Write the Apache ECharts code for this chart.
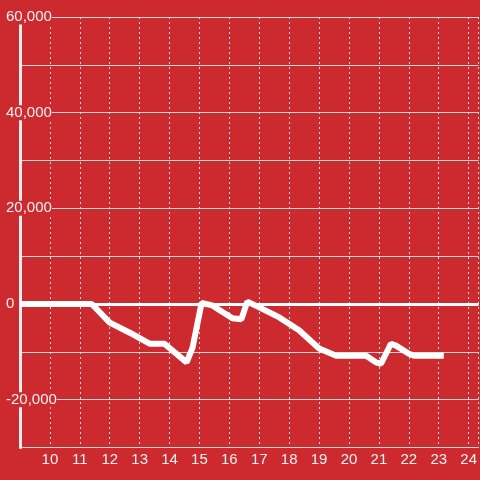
<!DOCTYPE html>
<html>
<head>
<meta charset="utf-8">
<script src="https://cdn.jsdelivr.net/npm/echarts@6/dist/echarts.min.js"></script>
<style>
  html, body { margin: 0; padding: 0; background: #cd2a2f; }
  #chart { width: 480px; height: 480px; }
</style>
</head>
<body>
<div id="chart"></div>
<script>
// x positions (hours) and values
const xValues = [9, 11.4, 12.0, 12.67, 13.33, 13.83, 14.57, 14.77, 15.07, 15.43, 16.1, 16.4, 16.6, 17.0, 17.67, 18.33, 19.0, 19.57, 20.57, 20.9, 21.07, 21.4, 21.57, 22.0, 22.17, 23.17];
const yValues = [0, 0, -3900, -6000, -8300, -8300, -12200, -9100, 200, -300, -3000, -3200, 500, -700, -2800, -5500, -9300, -10800, -10800, -12200, -12500, -8300, -8700, -10400, -10800, -10800];
const yTickLabels = [-20000, 0, 20000, 40000, 60000];

const bg = '#cd2a2f';
const chart = echarts.init(document.getElementById('chart'));

const option = {
  backgroundColor: bg,
  animation: false,
  grid: { left: 20, right: 0, top: 17, bottom: 32.5, containLabel: false },
  xAxis: {
    type: 'value',
    min: 9,
    max: 9 + 460 / 30,   // axis runs off the right edge, ~24.33
    interval: 1,
    axisLine: { show: false, onZero: false },
    axisTick: { show: false },
    axisLabel: {
      color: '#f2f2f2',
      fontSize: 15,
      fontFamily: 'Liberation Sans, Arial, sans-serif',
      margin: 5,
      showMinLabel: false,
      showMaxLabel: false
    },
    splitLine: { show: true, lineStyle: { color: '#e0e0e0', width: 1, type: [2, 3] } }
  },
  yAxis: {
    type: 'value',
    min: -30000,
    max: 60000,
    interval: 10000,
    axisLine: { show: true, onZero: false, lineStyle: { color: '#eeeeee', width: 3 } },
    axisTick: { show: false },
    axisLabel: {
      color: '#f2f2f2',
      fontSize: 15,
      fontFamily: 'Liberation Sans, Arial, sans-serif',
      align: 'left',
      margin: 14,
      backgroundColor: bg,
      formatter: v => yTickLabels.includes(v) ? v.toLocaleString('en-US') : ''
    },
    splitLine: { show: true, lineStyle: { color: '#d8d8d8', width: 1 } }
  },
  series: [{
    type: 'line',
    data: xValues.map((x, i) => [x, yValues[i]]),
    showSymbol: false,
    lineStyle: { color: '#ffffff', width: 6 },
    markLine: {
      silent: true,
      symbol: 'none',
      label: { show: false },
      lineStyle: { color: '#ffffff', width: 3, type: 'solid' },
      data: [{ yAxis: 0 }]
    }
  }]
};

chart.setOption(option);
</script>
</body>
</html>
